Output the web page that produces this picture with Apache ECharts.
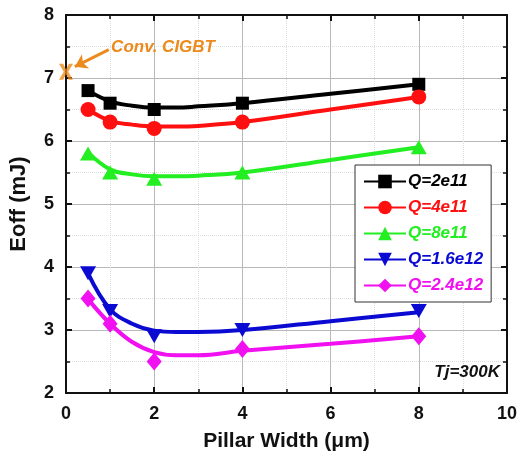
<!DOCTYPE html>
<html>
<head>
<meta charset="utf-8">
<script src="https://cdn.jsdelivr.net/npm/echarts@6/dist/echarts.min.js"></script>
<style>
html,body{margin:0;padding:0;background:#fff;}
#c{width:520px;height:457px;}
</style>
</head>
<body>
<div id="c"></div>
<script>
// ---- data ----
const xValues = [0.5, 1, 2, 4, 8];
const q2e11  = [6.8, 6.6, 6.5, 6.6, 6.9];
const q4e11  = [6.5, 6.3, 6.2, 6.3, 6.7];
const q8e11  = [5.8, 5.5, 5.4, 5.5, 5.9];
const q16e12 = [3.9, 3.3, 2.9, 3.0, 3.3];
const q24e12 = [3.5, 3.1, 2.5, 2.7, 2.9];

// fitted curves (drawn lines)
const fitX     = [0.5, 1, 1.5, 2, 2.5, 3, 4, 6, 8];
const fit2e11  = [6.8, 6.63, 6.56, 6.53, 6.53, 6.55, 6.6, 6.75, 6.9];
const fit4e11  = [6.5, 6.32, 6.26, 6.23, 6.23, 6.24, 6.3, 6.5, 6.7];
const fit8e11  = [5.82, 5.55, 5.47, 5.44, 5.44, 5.45, 5.5, 5.7, 5.9];
const fit16e12 = [3.9, 3.33, 3.1, 2.99, 2.97, 2.97, 3.0, 3.14, 3.28];
const fit24e12 = [3.49, 3.1, 2.81, 2.65, 2.6, 2.6, 2.67, 2.78, 2.9];

const seriesNames = ['Q=2e11', 'Q=4e11', 'Q=8e11', 'Q=1.6e12', 'Q=2.4e12'];
const convX = [0];
const convY = [7.1];
const convLabel = 'Conv. CIGBT';
const tempLabel = 'Tj=300K';
const xTicks = [0, 2, 4, 6, 8, 10];
const yTicks = [2, 3, 4, 5, 6, 7, 8];

// ---- styling ----
const FONT = '"Liberation Sans", Arial, sans-serif';
const ORANGE = '#ec8a1c';
const colors = ['#000000', '#ff1010', '#22ee22', '#0a0ad2', '#f010f0'];
const symbols = ['rect', 'circle', 'triangle', 'path://M0,0 L10,0 L5,9 Z', 'diamond'];
const symSizes = [13, 15, [16, 14], [16, 14], [15, 18]];
const pts = [q2e11, q4e11, q8e11, q16e12, q24e12];
const fits = [fit2e11, fit4e11, fit8e11, fit16e12, fit24e12];

const series = [];
for (let i = 0; i < 5; i++) {
  series.push({
    name: seriesNames[i],
    type: 'line',
    smooth: 0.4,
    data: fitX.map((x, j) => [x, fits[i][j]]),
    symbol: symbols[i],
    showSymbol: false,
    color: colors[i],
    lineStyle: { width: 4, color: colors[i] },
    itemStyle: { color: colors[i] },
    z: 3
  });
  series.push({
    name: 'pts' + i,
    type: 'scatter',
    data: xValues.map((x, j) => [x, pts[i][j]]),
    symbol: symbols[i],
    symbolSize: symSizes[i],
    itemStyle: { color: colors[i], opacity: 1 },
    z: 4
  });
}
// Conv. CIGBT point + arrow
series.push({
  name: 'conv',
  type: 'scatter',
  data: convX.map((x, j) => [x, convY[j]]),
  symbol: 'path://M0,0 L3,0 L5,3.6 L7,0 L10,0 L6.6,5 L10,10 L7,10 L5,6.4 L3,10 L0,10 L3.4,5 Z',
  symbolSize: [14, 16],
  itemStyle: { color: ORANGE },
  z: 5,
  markLine: {
    silent: true,
    symbol: ['none', 'arrow'],
    symbolSize: 12,
    lineStyle: { color: ORANGE, width: 3, type: 'solid' },
    label: { show: false },
    data: [[{ coord: [0.97, 7.45] }, { coord: [0.2, 7.18] }]]
  }
});
series.push({
  name: 'convText',
  type: 'scatter',
  data: [[1.0, 7.49]],
  symbol: 'circle',
  symbolSize: 2,
  itemStyle: { color: 'rgba(255,255,255,0)' },
  z: 6,
  label: {
    show: true, position: 'right', distance: 0,
    formatter: convLabel,
    color: ORANGE, textBorderWidth: 0, opacity: 1,
    fontFamily: FONT, fontSize: 17, fontWeight: 'bold', fontStyle: 'italic'
  }
});

const axisCommon = {
  axisLine: { show: true, onZero: false, lineStyle: { color: '#111', width: 2 } },
  axisTick: { show: true, inside: true, length: 6, lineStyle: { color: '#111', width: 2 } },
  minorTick: { show: true, splitNumber: 2, length: 4, lineStyle: { color: '#111', width: 1.5 } }
};

const option = {
  animation: false,
  backgroundColor: '#fff',
  textStyle: { fontFamily: FONT },
  grid: { left: 65, right: 9, top: 15, bottom: 63, containLabel: false },
  legend: {
    orient: 'vertical',
    left: 355, top: 165,
    padding: [8, 8, 8, 8],
    itemGap: 9,
    itemWidth: 42,
    itemHeight: 17,
    backgroundColor: '#fff',
    borderColor: '#333',
    borderWidth: 1,
    borderRadius: 0,
    textStyle: { fontFamily: FONT, fontSize: 17, fontWeight: 'bold', fontStyle: 'italic', padding: [0, 0, 0, -3] },
    data: seriesNames.map((n, i) => ({ name: n, textStyle: { color: colors[i] } }))
  },
  xAxis: [
    Object.assign({}, axisCommon, {
      type: 'value', min: xTicks[0], max: xTicks[xTicks.length - 1], interval: 2,
      position: 'bottom',
      name: 'Pillar Width (\u03bcm)', nameLocation: 'middle', nameGap: 38,
      nameTextStyle: { fontFamily: FONT, fontSize: 21, fontWeight: 'bold', color: '#111' },
      axisLabel: { color: '#111', fontFamily: FONT, fontSize: 18, fontWeight: 'bold', margin: 12 },
      splitLine: { show: true, lineStyle: { color: '#b8b8b8', width: 1 } },
      minorSplitLine: { show: true, lineStyle: { color: '#dddddd', width: 1, type: 'dotted' } }
    }),
    Object.assign({}, axisCommon, {
      type: 'value', min: xTicks[0], max: xTicks[xTicks.length - 1], interval: 2,
      position: 'top',
      axisLabel: { show: false },
      splitLine: { show: false }
    })
  ],
  yAxis: [
    Object.assign({}, axisCommon, {
      type: 'value', min: yTicks[0], max: yTicks[yTicks.length - 1], interval: 1,
      position: 'left',
      name: 'Eoff (mJ)', nameLocation: 'middle', nameGap: 36, nameRotate: 90,
      nameTextStyle: { fontFamily: FONT, fontSize: 22, fontWeight: 'bold', color: '#111' },
      axisLabel: { color: '#111', fontFamily: FONT, fontSize: 18, fontWeight: 'bold', margin: 12 },
      splitLine: { show: true, lineStyle: { color: '#b8b8b8', width: 1 } },
      minorSplitLine: { show: true, lineStyle: { color: '#dddddd', width: 1, type: 'dotted' } }
    }),
    Object.assign({}, axisCommon, {
      type: 'value', min: yTicks[0], max: yTicks[yTicks.length - 1], interval: 1,
      position: 'right',
      axisLabel: { show: false },
      splitLine: { show: false }
    })
  ],
  graphic: [{
    type: 'text',
    right: 20, bottom: 76,
    style: {
      text: tempLabel, fill: '#111',
      font: 'italic bold 17px ' + FONT
    },
    z: 10
  }],
  series: series
};

const chart = echarts.init(document.getElementById('c'), null, { renderer: 'canvas' });
chart.setOption(option);
</script>
</body>
</html>
